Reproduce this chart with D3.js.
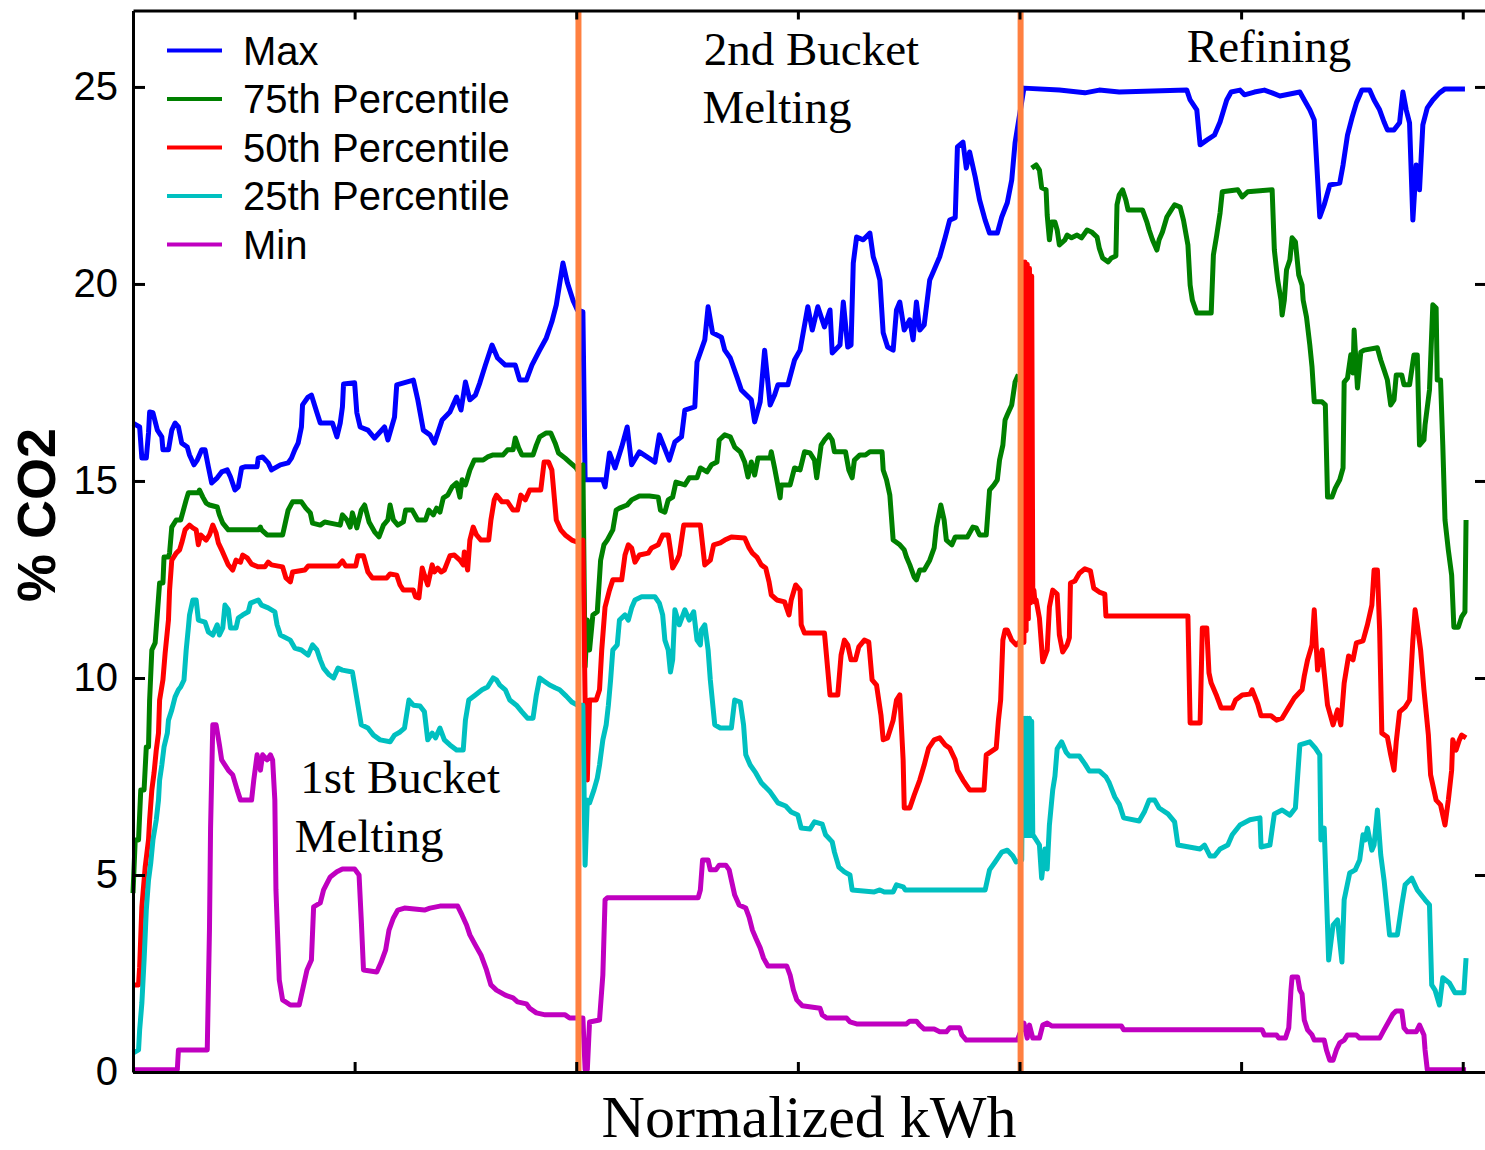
<!DOCTYPE html>
<html>
<head>
<meta charset="utf-8">
<script src="https://cdn.jsdelivr.net/npm/d3@7"></script>
<style>
  body { margin: 0; background: #fff; }
  svg { display: block; }
</style>
</head>
<body>
<div id="chart"></div>
<script>
// Series names and colours (legend order)
const seriesNames = ["Max", "75th Percentile", "50th Percentile", "25th Percentile", "Min"];
const seriesColors = ["#0000ff", "#008000", "#ff0000", "#00c0c0", "#c000c0"];

// [normalized kWh, % CO2] (null = gap in the trace)
const maxPts = [[0,16.47],[0.006,16.37],[0.008,15.58],[0.012,15.58],[0.014,16.22],[0.015,16.75],[0.018,16.73],[0.022,16.29],[0.026,16.12],[0.027,15.79],[0.032,15.79],[0.035,16.29],[0.038,16.47],[0.041,16.37],[0.044,15.96],[0.049,15.86],[0.051,15.66],[0.055,15.41],[0.058,15.53],[0.062,15.79],[0.065,15.79],[0.068,15.36],[0.071,14.95],[0.076,15.08],[0.080,15.23],[0.085,15.28],[0.088,15.10],[0.092,14.77],[0.095,14.85],[0.098,15.33],[0.101,15.36],[0.112,15.36],[0.113,15.58],[0.117,15.61],[0.122,15.46],[0.125,15.28],[0.133,15.41],[0.140,15.46],[0.143,15.58],[0.146,15.79],[0.149,15.96],[0.152,16.37],[0.153,16.93],[0.158,17.13],[0.161,17.18],[0.166,16.73],[0.169,16.47],[0.180,16.47],[0.184,16.12],[0.187,16.47],[0.189,16.88],[0.190,17.46],[0.200,17.49],[0.202,16.73],[0.205,16.37],[0.212,16.29],[0.218,16.09],[0.227,16.37],[0.230,16.04],[0.236,16.62],[0.238,17.44],[0.253,17.56],[0.257,17.06],[0.262,16.29],[0.268,16.17],[0.272,15.96],[0.279,16.55],[0.286,16.75],[0.292,17.13],[0.296,16.80],[0.300,17.51],[0.304,17.06],[0.309,17.18],[0.313,17.49],[0.318,17.94],[0.324,18.45],[0.329,18.12],[0.336,17.94],[0.345,17.94],[0.349,17.56],[0.355,17.56],[0.360,17.94],[0.367,18.32],[0.373,18.63],[0.378,19.04],[0.382,19.47],[0.388,20.53],[0.392,20.03],[0.397,19.59],[0.401,19.34],[0.406,19.29],[0.408,15.03],[0.424,15.03],[0.426,14.85],[0.430,15.71],[0.435,15.33],[0.441,15.86],[0.446,16.37],[0.450,15.41],[0.457,15.74],[0.471,15.48],[0.475,16.17],[0.484,15.53],[0.489,15.99],[0.495,16.12],[0.498,16.80],[0.507,16.88],[0.509,18.02],[0.516,18.58],[0.519,19.42],[0.523,18.76],[0.531,18.65],[0.534,18.32],[0.539,18.12],[0.545,17.64],[0.549,17.31],[0.558,17.06],[0.561,16.50],[0.566,17.01],[0.570,18.32],[0.575,16.93],[0.579,17.18],[0.582,17.44],[0.591,17.44],[0.597,18.07],[0.602,18.32],[0.609,19.42],[0.613,18.83],[0.618,19.42],[0.624,18.91],[0.629,19.34],[0.631,18.25],[0.638,18.45],[0.641,19.54],[0.645,18.40],[0.648,18.45],[0.650,20.53],[0.653,21.19],[0.659,21.12],[0.665,21.29],[0.668,20.69],[0.671,20.43],[0.674,20.10],[0.677,18.76],[0.681,18.40],[0.686,18.32],[0.689,19.34],[0.692,19.54],[0.696,18.83],[0.701,19.09],[0.704,18.58],[0.707,19.54],[0.710,18.83],[0.714,18.96],[0.719,20.10],[0.723,20.36],[0.728,20.69],[0.733,21.19],[0.737,21.62],[0.742,21.68],[0.744,23.48],[0.749,23.60],[0.752,22.94],[0.755,23.35],[0.760,22.72],[0.764,22.13],[0.769,21.62],[0.773,21.29],[0.780,21.29],[0.784,21.70],[0.789,22.06],[0.793,22.64],[0.796,23.58],[0.804,24.97],[0.836,24.92],[0.859,24.85],[0.872,24.92],[0.890,24.87],[0.951,24.92],[0.954,24.67],[0.960,24.42],[0.963,23.53],[0.969,23.65],[0.976,23.78],[0.981,24.11],[0.987,24.67],[0.991,24.87],[0.999,24.92],[1.003,24.80],[1.012,24.87],[1.021,24.92],[1.028,24.85],[1.035,24.77],[1.053,24.87],[1.057,24.67],[1.062,24.42],[1.066,24.16],[1.071,21.70],[1.075,22.01],[1.080,22.51],[1.089,22.56],[1.092,23.02],[1.096,23.78],[1.100,24.21],[1.104,24.59],[1.109,24.92],[1.116,24.92],[1.120,24.67],[1.125,24.42],[1.129,24.11],[1.132,23.91],[1.138,23.91],[1.143,24.09],[1.146,24.87],[1.149,24.42],[1.152,24.09],[1.155,21.62],[1.158,23.02],[1.161,22.39],[1.164,24.04],[1.168,24.47],[1.173,24.67],[1.179,24.85],[1.184,24.95],[1.202,24.95]];

const p75Pts = [[0,4.54],[0.002,5.89],[0.005,5.89],[0.007,7.16],[0.010,7.16],[0.012,8.25],[0.014,8.25],[0.015,9.44],[0.017,10.71],[0.020,10.89],[0.022,11.65],[0.024,12.41],[0.027,12.41],[0.028,13.07],[0.032,13.07],[0.033,13.17],[0.035,13.83],[0.039,14.01],[0.043,14.01],[0.045,14.21],[0.048,14.52],[0.050,14.70],[0.059,14.70],[0.060,14.77],[0.063,14.59],[0.066,14.44],[0.069,14.39],[0.076,14.34],[0.078,14.14],[0.081,13.93],[0.086,13.76],[0.113,13.76],[0.115,13.83],[0.116,13.76],[0.121,13.63],[0.135,13.63],[0.137,13.88],[0.140,14.26],[0.144,14.47],[0.152,14.47],[0.156,14.31],[0.160,14.19],[0.162,13.93],[0.169,13.88],[0.173,13.96],[0.178,13.93],[0.187,13.88],[0.189,14.14],[0.193,14.01],[0.196,13.83],[0.198,14.19],[0.202,13.81],[0.206,14.26],[0.209,14.39],[0.213,13.96],[0.218,13.71],[0.222,13.58],[0.226,13.88],[0.230,14.01],[0.232,14.39],[0.235,14.01],[0.239,13.88],[0.244,13.96],[0.246,14.26],[0.252,14.26],[0.257,14.01],[0.264,14.01],[0.267,14.26],[0.271,14.14],[0.274,14.31],[0.277,14.21],[0.280,14.57],[0.284,14.64],[0.288,14.85],[0.292,14.95],[0.295,14.59],[0.297,15.03],[0.300,14.90],[0.304,15.28],[0.308,15.53],[0.316,15.53],[0.320,15.61],[0.325,15.66],[0.334,15.66],[0.338,15.79],[0.343,15.79],[0.345,16.09],[0.348,15.84],[0.351,15.66],[0.361,15.66],[0.364,15.91],[0.367,16.12],[0.373,16.22],[0.377,16.22],[0.381,15.96],[0.384,15.71],[0.390,15.58],[0.394,15.48],[0.400,15.33],[0.401,15.28],[0.406,15.41],[0.408,10.28],[0.410,11.47],[0.412,10.71],[0.415,11.60],[0.419,11.68],[0.422,12.99],[0.425,13.38],[0.428,13.50],[0.433,13.76],[0.436,14.26],[0.439,14.31],[0.446,14.39],[0.450,14.52],[0.457,14.62],[0.466,14.62],[0.474,14.59],[0.476,14.26],[0.480,14.21],[0.483,14.52],[0.487,14.59],[0.490,14.97],[0.498,14.90],[0.502,15.08],[0.509,15.08],[0.512,15.33],[0.518,15.23],[0.522,15.41],[0.527,15.48],[0.529,16.04],[0.534,16.17],[0.539,16.12],[0.543,15.86],[0.548,15.74],[0.552,15.48],[0.555,15.10],[0.558,15.48],[0.561,15.15],[0.564,15.58],[0.575,15.58],[0.576,15.74],[0.579,15.33],[0.581,15.03],[0.584,14.57],[0.585,14.90],[0.593,14.90],[0.597,15.33],[0.602,15.28],[0.606,15.74],[0.611,15.71],[0.615,15.53],[0.617,15.08],[0.621,15.91],[0.624,16.04],[0.628,16.17],[0.631,16.04],[0.633,15.74],[0.643,15.74],[0.646,15.28],[0.649,15.08],[0.651,15.53],[0.656,15.66],[0.661,15.66],[0.665,15.74],[0.676,15.74],[0.677,15.28],[0.680,15.03],[0.683,14.64],[0.686,13.50],[0.692,13.38],[0.696,13.25],[0.698,13.07],[0.701,12.87],[0.705,12.56],[0.707,12.49],[0.710,12.74],[0.714,12.74],[0.719,12.99],[0.723,13.30],[0.725,13.83],[0.729,14.39],[0.732,14.01],[0.734,13.50],[0.739,13.38],[0.742,13.58],[0.753,13.58],[0.758,13.83],[0.761,13.81],[0.764,13.63],[0.770,13.63],[0.773,14.77],[0.777,14.90],[0.780,15.03],[0.782,15.53],[0.785,15.91],[0.787,16.55],[0.789,16.68],[0.793,16.93],[0.796,17.51],[0.799,17.7],[0.803,null],[0.811,22.94],[0.815,23.02],[0.818,22.89],[0.820,22.44],[0.824,22.39],[0.825,21.75],[0.827,21.12],[0.829,21.57],[0.832,21.57],[0.834,21.37],[0.836,20.99],[0.841,21.12],[0.843,21.24],[0.847,21.17],[0.852,21.24],[0.856,21.17],[0.861,21.37],[0.865,21.32],[0.870,21.19],[0.872,20.91],[0.875,20.66],[0.880,20.56],[0.883,20.66],[0.887,20.71],[0.888,22.01],[0.890,22.26],[0.893,22.39],[0.896,22.13],[0.898,21.88],[0.911,21.88],[0.915,21.57],[0.917,21.37],[0.920,21.12],[0.924,20.86],[0.926,21.12],[0.929,21.32],[0.933,21.70],[0.937,21.88],[0.940,22.01],[0.945,21.95],[0.948,21.62],[0.952,20.99],[0.954,19.97],[0.956,19.59],[0.960,19.26],[0.973,19.26],[0.975,20.74],[0.978,21.24],[0.981,21.80],[0.983,22.34],[0.997,22.39],[1.001,22.21],[1.006,22.34],[1.028,22.39],[1.030,20.86],[1.033,20.10],[1.036,19.59],[1.037,19.21],[1.039,19.59],[1.041,20.36],[1.044,20.61],[1.046,21.17],[1.049,21.07],[1.052,20.23],[1.055,19.97],[1.056,19.59],[1.059,19.16],[1.062,18.45],[1.064,17.89],[1.066,17.01],[1.073,17.01],[1.076,16.93],[1.078,14.59],[1.082,14.59],[1.085,14.82],[1.089,15.03],[1.092,15.33],[1.093,17.51],[1.096,17.61],[1.099,18.20],[1.101,17.74],[1.102,18.83],[1.105,17.36],[1.108,18.27],[1.111,18.32],[1.123,18.38],[1.126,18.07],[1.129,17.82],[1.132,17.56],[1.135,16.93],[1.138,17.06],[1.140,17.69],[1.145,17.69],[1.147,17.44],[1.152,17.44],[1.156,18.20],[1.159,18.20],[1.161,15.91],[1.165,16.04],[1.166,16.42],[1.170,17.31],[1.173,19.47],[1.176,19.39],[1.177,17.56],[1.180,17.56],[1.182,15.91],[1.184,14.01],[1.187,13.25],[1.190,12.61],[1.192,11.29],[1.196,11.29],[1.199,11.55],[1.202,11.68],[1.203,14.01]];

const p50Pts = [[0,2.21],[0.005,2.21],[0.006,2.66],[0.008,4.19],[0.011,5.20],[0.014,5.89],[0.015,6.40],[0.017,7.16],[0.019,7.59],[0.021,8.17],[0.023,8.60],[0.024,9.44],[0.027,9.95],[0.029,10.63],[0.032,11.47],[0.033,12.23],[0.035,12.99],[0.039,13.17],[0.042,13.25],[0.044,13.43],[0.047,13.76],[0.051,13.88],[0.054,13.81],[0.057,13.76],[0.059,13.38],[0.061,13.63],[0.066,13.50],[0.069,13.63],[0.072,13.88],[0.075,13.68],[0.077,13.43],[0.080,13.25],[0.086,12.87],[0.090,12.74],[0.093,12.99],[0.097,12.94],[0.099,13.12],[0.103,13.05],[0.107,12.89],[0.113,12.82],[0.119,12.82],[0.122,12.94],[0.125,12.87],[0.135,12.82],[0.138,12.54],[0.142,12.44],[0.144,12.69],[0.155,12.74],[0.158,12.84],[0.185,12.84],[0.189,12.97],[0.192,12.84],[0.201,12.84],[0.203,13.10],[0.208,13.10],[0.212,12.69],[0.216,12.54],[0.229,12.54],[0.232,12.64],[0.238,12.61],[0.241,12.36],[0.244,12.23],[0.253,12.23],[0.255,12.06],[0.258,12.03],[0.261,12.79],[0.263,12.61],[0.266,12.36],[0.270,12.87],[0.272,12.69],[0.275,12.79],[0.278,12.69],[0.281,12.74],[0.286,13.10],[0.290,13.12],[0.295,12.99],[0.298,12.87],[0.299,13.20],[0.302,12.74],[0.304,13.50],[0.307,13.83],[0.310,13.63],[0.314,13.50],[0.321,13.50],[0.323,14.01],[0.326,14.52],[0.328,14.64],[0.333,14.47],[0.338,14.47],[0.343,14.26],[0.347,14.26],[0.350,14.64],[0.354,14.52],[0.358,14.77],[0.368,14.77],[0.371,15.48],[0.375,15.48],[0.378,15.28],[0.380,14.64],[0.382,14.01],[0.386,13.76],[0.390,13.63],[0.396,13.50],[0.401,13.45],[0.406,13.50],[0.408,9.44],[0.410,7.41],[0.412,9.44],[0.418,9.44],[0.421,9.70],[0.423,10.71],[0.426,11.80],[0.430,12.23],[0.433,12.49],[0.441,12.49],[0.444,13.12],[0.447,13.38],[0.450,13.30],[0.453,12.94],[0.457,13.12],[0.465,13.17],[0.468,13.30],[0.474,13.38],[0.478,13.63],[0.483,13.63],[0.485,13.25],[0.487,12.79],[0.491,12.99],[0.493,13.12],[0.497,13.88],[0.512,13.88],[0.514,13.38],[0.516,12.87],[0.521,12.99],[0.524,13.38],[0.530,13.43],[0.534,13.50],[0.540,13.58],[0.552,13.55],[0.556,13.30],[0.559,13.17],[0.563,13.07],[0.567,12.87],[0.571,12.79],[0.574,12.44],[0.576,12.11],[0.581,11.98],[0.588,11.93],[0.592,11.60],[0.594,11.98],[0.598,12.36],[0.602,12.23],[0.603,11.35],[0.606,11.14],[0.624,11.14],[0.627,10.20],[0.629,9.57],[0.636,9.57],[0.639,10.58],[0.642,10.96],[0.645,10.84],[0.648,10.46],[0.652,10.46],[0.655,10.79],[0.660,10.96],[0.664,10.91],[0.667,9.95],[0.671,9.82],[0.675,9.06],[0.677,8.43],[0.681,8.48],[0.686,8.93],[0.689,9.44],[0.692,9.57],[0.695,7.92],[0.696,6.70],[0.701,6.70],[0.705,7.03],[0.710,7.41],[0.714,7.79],[0.718,8.22],[0.723,8.43],[0.728,8.48],[0.733,8.30],[0.737,8.22],[0.742,7.92],[0.744,7.66],[0.749,7.41],[0.755,7.16],[0.768,7.16],[0.770,8.05],[0.779,8.22],[0.781,8.93],[0.783,9.44],[0.785,10.96],[0.787,11.22],[0.789,11.22],[0.793,10.96],[0.797,10.84],[0.802,10.96],[0.803,20.56],[0.804,10.90],[0.805,20.56],[0.806,11.20],[0.807,20.50],[0.808,11.50],[0.809,20.40],[0.810,11.90],[0.811,20.20],[0.812,12.10],[0.813,12.23],[0.814,11.93],[0.815,11.98],[0.818,11.52],[0.821,10.41],[0.825,10.71],[0.827,11.80],[0.830,12.23],[0.834,12.13],[0.836,11.09],[0.839,10.66],[0.843,10.84],[0.845,11.02],[0.846,12.41],[0.850,12.46],[0.854,12.66],[0.859,12.77],[0.864,12.72],[0.867,12.28],[0.872,12.18],[0.877,12.13],[0.878,11.57],[0.952,11.57],[0.954,8.86],[0.963,8.86],[0.965,11.27],[0.969,11.27],[0.971,10.13],[0.973,9.87],[0.978,9.54],[0.982,9.24],[0.992,9.24],[0.995,9.44],[1.001,9.57],[1.008,9.59],[1.010,9.70],[1.015,9.34],[1.018,9.04],[1.027,9.04],[1.032,8.93],[1.037,8.98],[1.043,9.26],[1.048,9.49],[1.055,9.70],[1.057,10.05],[1.060,10.46],[1.064,10.84],[1.066,11.73],[1.069,10.20],[1.073,10.71],[1.075,10.13],[1.078,9.31],[1.083,8.81],[1.087,9.19],[1.090,8.81],[1.093,9.87],[1.097,10.56],[1.101,10.46],[1.104,10.89],[1.110,10.94],[1.114,11.35],[1.118,11.85],[1.120,12.74],[1.123,12.74],[1.125,11.22],[1.127,8.60],[1.132,8.50],[1.135,8.05],[1.138,7.66],[1.140,8.38],[1.143,9.14],[1.148,9.26],[1.152,9.44],[1.155,10.96],[1.157,11.73],[1.159,11.35],[1.162,10.71],[1.165,9.70],[1.169,8.55],[1.171,7.54],[1.176,6.90],[1.180,6.78],[1.184,6.27],[1.187,6.90],[1.190,7.66],[1.191,8.43],[1.194,8.17],[1.197,8.43],[1.199,8.55],[1.203,8.48]];

const p25Pts = [[0,0.48],[0.005,0.56],[0.006,1.07],[0.008,1.75],[0.010,2.84],[0.012,4.11],[0.014,4.87],[0.016,5.30],[0.018,5.89],[0.021,6.40],[0.023,6.90],[0.024,7.41],[0.026,7.79],[0.028,8.25],[0.031,8.60],[0.032,8.93],[0.035,9.19],[0.038,9.52],[0.041,9.70],[0.043,9.77],[0.046,9.95],[0.048,10.71],[0.050,11.29],[0.051,11.60],[0.054,11.98],[0.057,11.98],[0.059,11.47],[0.065,11.42],[0.068,11.17],[0.072,11.09],[0.076,11.35],[0.078,11.09],[0.081,11.27],[0.083,11.85],[0.086,11.73],[0.088,11.27],[0.093,11.27],[0.095,11.52],[0.099,11.60],[0.104,11.68],[0.106,11.90],[0.113,11.98],[0.116,11.85],[0.122,11.78],[0.128,11.68],[0.130,11.35],[0.133,11.09],[0.142,10.96],[0.146,10.76],[0.152,10.71],[0.158,10.58],[0.162,10.84],[0.166,10.71],[0.169,10.46],[0.172,10.25],[0.177,10.08],[0.181,10.00],[0.185,10.25],[0.189,10.20],[0.198,10.15],[0.200,9.82],[0.203,9.31],[0.206,8.81],[0.212,8.73],[0.217,8.55],[0.223,8.43],[0.232,8.38],[0.236,8.55],[0.241,8.63],[0.245,8.73],[0.249,9.44],[0.253,9.31],[0.259,9.29],[0.263,9.14],[0.266,8.43],[0.270,8.60],[0.273,8.48],[0.277,8.73],[0.281,8.43],[0.286,8.30],[0.292,8.17],[0.298,8.17],[0.300,8.93],[0.303,9.44],[0.309,9.57],[0.315,9.70],[0.320,9.77],[0.325,10.00],[0.328,9.95],[0.331,9.82],[0.336,9.70],[0.340,9.44],[0.346,9.31],[0.351,9.14],[0.356,8.98],[0.361,8.98],[0.364,9.57],[0.367,10.00],[0.372,9.90],[0.376,9.82],[0.381,9.75],[0.385,9.70],[0.391,9.54],[0.396,9.39],[0.401,9.31],[0.406,9.31],[0.408,5.25],[0.410,6.90],[0.412,6.83],[0.416,7.16],[0.419,7.46],[0.421,7.79],[0.424,8.43],[0.427,8.81],[0.429,9.31],[0.431,9.95],[0.433,10.71],[0.437,10.84],[0.439,11.47],[0.444,11.60],[0.447,11.47],[0.450,11.78],[0.453,11.98],[0.459,12.06],[0.471,12.06],[0.475,11.90],[0.478,11.60],[0.480,10.96],[0.483,10.71],[0.485,10.15],[0.487,10.46],[0.489,11.73],[0.493,11.35],[0.498,11.73],[0.502,11.47],[0.506,11.68],[0.509,10.96],[0.512,10.84],[0.513,11.22],[0.516,11.35],[0.519,10.71],[0.521,9.95],[0.525,8.81],[0.530,8.73],[0.540,8.73],[0.543,9.44],[0.548,9.39],[0.551,8.81],[0.553,8.05],[0.557,7.79],[0.562,7.59],[0.567,7.34],[0.575,7.11],[0.582,6.83],[0.589,6.75],[0.594,6.60],[0.600,6.52],[0.603,6.19],[0.611,6.17],[0.615,6.35],[0.622,6.29],[0.625,6.02],[0.631,5.84],[0.633,5.58],[0.637,5.20],[0.642,5.08],[0.647,5.00],[0.649,4.62],[0.669,4.57],[0.674,4.62],[0.678,4.57],[0.686,4.57],[0.689,4.75],[0.695,4.70],[0.697,4.62],[0.769,4.62],[0.773,5.13],[0.778,5.33],[0.784,5.58],[0.789,5.63],[0.794,5.48],[0.797,5.33],[0.802,5.38],[0.803,8.98],[0.804,6.00],[0.805,8.98],[0.806,6.00],[0.807,8.98],[0.808,6.00],[0.809,8.98],[0.810,6.00],[0.811,8.90],[0.812,6.02],[0.814,5.94],[0.818,5.76],[0.820,4.92],[0.823,5.66],[0.825,5.15],[0.827,6.27],[0.830,7.16],[0.832,7.51],[0.834,8.20],[0.838,8.38],[0.842,8.12],[0.845,8.02],[0.854,8.02],[0.859,7.82],[0.863,7.64],[0.872,7.64],[0.878,7.49],[0.881,7.34],[0.886,6.98],[0.890,6.80],[0.894,6.45],[0.908,6.37],[0.913,6.62],[0.917,6.90],[0.922,6.90],[0.926,6.70],[0.934,6.55],[0.940,6.35],[0.943,5.76],[0.963,5.66],[0.967,5.76],[0.972,5.48],[0.976,5.48],[0.981,5.66],[0.988,5.76],[0.992,6.02],[0.999,6.27],[1.008,6.40],[1.017,6.45],[1.018,5.71],[1.026,5.76],[1.030,6.55],[1.037,6.65],[1.044,6.52],[1.049,6.70],[1.053,8.30],[1.062,8.38],[1.067,8.22],[1.071,8.05],[1.072,5.89],[1.075,6.19],[1.079,2.84],[1.083,3.73],[1.087,3.86],[1.091,2.79],[1.093,4.37],[1.098,5.05],[1.103,5.13],[1.107,5.38],[1.110,6.02],[1.112,5.89],[1.114,6.19],[1.118,5.63],[1.120,5.76],[1.123,6.65],[1.126,5.51],[1.129,4.87],[1.134,3.48],[1.141,3.48],[1.145,4.24],[1.148,4.75],[1.154,4.92],[1.159,4.62],[1.166,4.37],[1.170,4.24],[1.172,2.21],[1.175,2.08],[1.179,1.70],[1.182,2.39],[1.188,2.26],[1.193,2.01],[1.201,2.01],[1.203,2.89]];

const minPts = [[0,0.06],[0.040,0.06],[0.041,0.56],[0.067,0.56],[0.069,3.60],[0.070,6.19],[0.072,8.81],[0.075,8.81],[0.078,8.30],[0.080,7.92],[0.086,7.66],[0.090,7.54],[0.094,7.16],[0.097,6.90],[0.107,6.90],[0.109,7.41],[0.112,8.05],[0.115,7.66],[0.117,8.05],[0.121,7.92],[0.124,8.05],[0.126,7.92],[0.128,6.90],[0.129,4.62],[0.132,2.34],[0.135,1.83],[0.142,1.70],[0.150,1.70],[0.153,2.08],[0.157,2.59],[0.161,2.84],[0.163,4.19],[0.169,4.29],[0.172,4.62],[0.178,4.95],[0.184,5.08],[0.189,5.15],[0.200,5.15],[0.204,5.00],[0.206,3.86],[0.208,2.59],[0.220,2.54],[0.224,2.79],[0.228,3.10],[0.231,3.60],[0.235,3.91],[0.239,4.11],[0.245,4.16],[0.263,4.11],[0.268,4.16],[0.277,4.21],[0.293,4.21],[0.297,3.98],[0.301,3.73],[0.304,3.48],[0.309,3.22],[0.314,2.97],[0.319,2.59],[0.323,2.21],[0.328,2.08],[0.336,1.95],[0.343,1.88],[0.347,1.78],[0.355,1.73],[0.358,1.62],[0.364,1.50],[0.372,1.45],[0.390,1.45],[0.394,1.37],[0.406,1.37],[0.408,0.06],[0.410,0.06],[0.412,1.27],[0.421,1.32],[0.424,2.46],[0.426,4.37],[0.428,4.42],[0.510,4.42],[0.512,4.62],[0.514,5.38],[0.519,5.38],[0.521,5.13],[0.526,5.13],[0.529,5.25],[0.535,5.25],[0.538,5.13],[0.540,4.87],[0.543,4.49],[0.547,4.24],[0.553,4.16],[0.556,3.93],[0.559,3.60],[0.562,3.40],[0.566,3.15],[0.569,2.89],[0.573,2.69],[0.590,2.69],[0.593,2.46],[0.596,2.08],[0.599,1.83],[0.604,1.68],[0.620,1.62],[0.622,1.45],[0.626,1.37],[0.644,1.37],[0.647,1.27],[0.653,1.22],[0.698,1.22],[0.701,1.29],[0.707,1.29],[0.710,1.19],[0.714,1.09],[0.723,1.09],[0.728,1.02],[0.734,1.02],[0.737,1.12],[0.746,1.12],[0.748,0.94],[0.752,0.81],[0.798,0.81],[0.804,1.24],[0.807,0.86],[0.809,1.19],[0.812,0.86],[0.818,0.86],[0.821,1.19],[0.825,1.24],[0.829,1.17],[0.892,1.17],[0.894,1.07],[1.019,1.07],[1.021,0.94],[1.032,0.94],[1.034,0.86],[1.040,0.86],[1.043,1.12],[1.045,2.08],[1.046,2.41],[1.051,2.41],[1.053,2.08],[1.055,1.98],[1.057,1.32],[1.060,1.07],[1.064,0.94],[1.066,0.81],[1.075,0.81],[1.077,0.56],[1.080,0.30],[1.083,0.30],[1.086,0.56],[1.089,0.74],[1.093,0.81],[1.096,0.94],[1.104,0.94],[1.107,0.86],[1.125,0.86],[1.129,1.07],[1.133,1.27],[1.137,1.47],[1.140,1.55],[1.145,1.55],[1.147,1.12],[1.150,1.02],[1.158,1.02],[1.161,1.19],[1.165,0.94],[1.166,0.56],[1.168,0.06],[1.203,0.06]];

const allSeries = [maxPts, p75Pts, p50Pts, p25Pts, minPts];

// axis ticks and phase boundaries
const yTicks = [0, 5, 10, 15, 20, 25];
const xTicks = [0.2, 0.4, 0.6, 0.8, 1.0, 1.2];
const phaseBounds = [0.402, 0.801];
const phaseLabels = [["1st Bucket", "Melting"], ["2nd Bucket", "Melting"], ["Refining"]];

const width = 1485;
const height = 1150;
const xMax = 1.221;
const yMax = 26.94;

const svg = d3.select("#chart")
  .append("svg")
  .attr("width", width)
  .attr("height", height);

svg.append("rect").attr("width", width).attr("height", height).attr("fill", "#fff");

const xScale = d3.scaleLinear().domain([0, xMax]).range([133, 1486]);
const yScale = d3.scaleLinear().domain([0, yMax]).range([1072, 10.5]);

const line = d3.line()
  .defined(d => d[1] !== null)
  .x(d => xScale(d[0]))
  .y(d => yScale(d[1]));

// data lines
svg.append("g")
  .selectAll("path")
  .data(allSeries)
  .enter()
  .append("path")
  .attr("d", line)
  .attr("fill", "none")
  .attr("stroke", (d, i) => seriesColors[i])
  .attr("stroke-width", 5)
  .attr("stroke-linejoin", "round");

// orange phase separators
svg.selectAll(".phase")
  .data(phaseBounds)
  .enter()
  .append("line")
  .attr("class", "phase")
  .attr("x1", d => xScale(d))
  .attr("x2", d => xScale(d))
  .attr("y1", yScale(yMax))
  .attr("y2", yScale(0))
  .attr("stroke", "#ff8040")
  .attr("stroke-width", 6);

// axes (ticks point into the plot)
const styleAxis = g => {
  g.select(".domain").attr("stroke", "#000").attr("stroke-width", 3);
  g.selectAll(".tick line").attr("stroke", "#000").attr("stroke-width", 3);
  g.selectAll(".tick text")
    .attr("fill", "#000")
    .style("font-family", "'Liberation Sans', Arial, sans-serif")
    .style("font-size", "40px");
};

svg.append("g")
  .attr("transform", `translate(${xScale(0)},0)`)
  .call(d3.axisLeft(yScale).tickValues(yTicks).tickSizeInner(-12).tickSizeOuter(0).tickPadding(15))
  .call(styleAxis);

svg.append("g")
  .attr("transform", `translate(${xScale(xMax)},0)`)
  .call(d3.axisRight(yScale).tickValues(yTicks).tickSizeInner(-11).tickSizeOuter(0).tickFormat(""))
  .call(styleAxis);

svg.append("g")
  .attr("transform", `translate(0,${yScale(0)})`)
  .call(d3.axisBottom(xScale).tickValues(xTicks).tickSizeInner(-10).tickSizeOuter(0).tickFormat(""))
  .call(styleAxis);

svg.append("g")
  .attr("transform", `translate(0,${yScale(yMax)})`)
  .call(d3.axisTop(xScale).tickValues(xTicks).tickSizeInner(-9).tickSizeOuter(0).tickFormat(""))
  .call(styleAxis);

// phase annotations
const serif = "'Liberation Serif', 'Times New Roman', serif";
const labelPos = [[0.151, 7.08, 0.146, 5.58], [0.515, 25.56, 0.514, 24.09], [0.951, 25.63]];
phaseLabels.forEach((lines, i) => {
  lines.forEach((t, j) => {
    svg.append("text")
      .attr("x", xScale(labelPos[i][j * 2]))
      .attr("y", yScale(labelPos[i][j * 2 + 1]))
      .style("font-family", serif)
      .style("font-size", "47px")
      .attr("fill", "#000")
      .text(t);
  });
});

// legend
const legend = svg.append("g");
seriesNames.forEach((name, i) => {
  const ly = 50.5 + i * 48.5;
  legend.append("line")
    .attr("x1", 167).attr("x2", 222)
    .attr("y1", ly).attr("y2", ly)
    .attr("stroke", seriesColors[i])
    .attr("stroke-width", 4);
  legend.append("text")
    .attr("x", 243)
    .attr("y", ly + 14)
    .style("font-family", "'Liberation Sans', Arial, sans-serif")
    .style("font-size", "40px")
    .attr("fill", "#000")
    .text(name);
});

// axis titles
svg.append("text")
  .attr("x", 809)
  .attr("y", 1137)
  .style("text-anchor", "middle")
  .style("font-family", serif)
  .style("font-size", "60px")
  .attr("fill", "#000")
  .text("Normalized kWh");

svg.append("text")
  .attr("transform", "translate(55,515) rotate(-90)")
  .style("text-anchor", "middle")
  .style("font-family", "'Liberation Sans', Arial, sans-serif")
  .style("font-weight", "bold")
  .style("font-size", "54px")
  .attr("fill", "#000")
  .text("% CO2");
</script>
</body>
</html>
